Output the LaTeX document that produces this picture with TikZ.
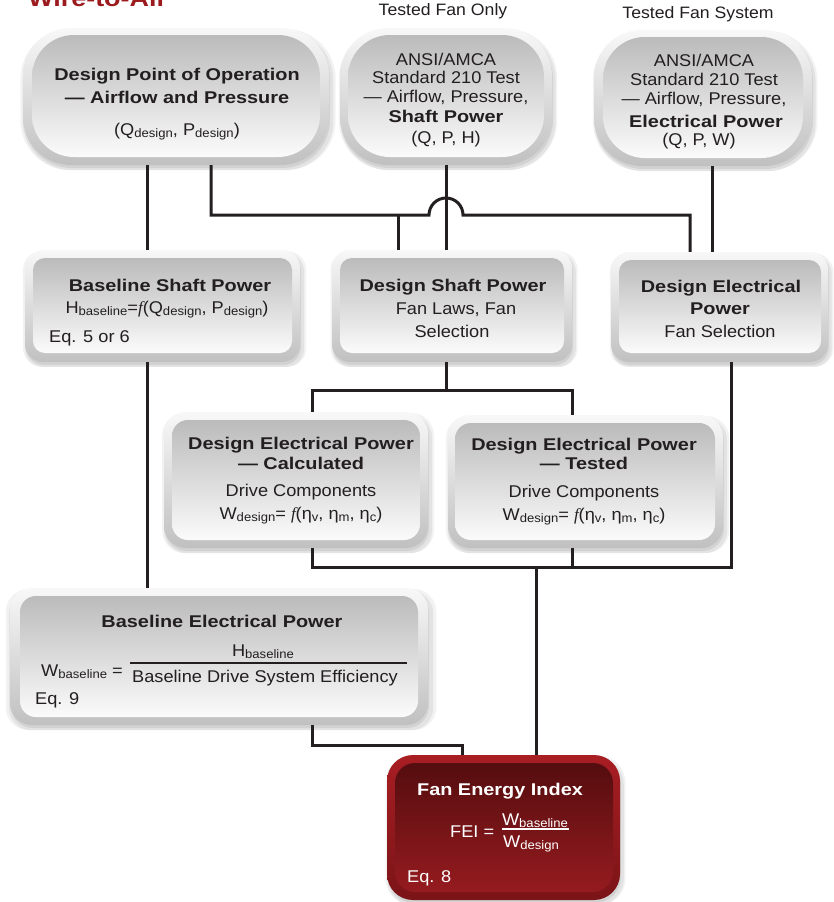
\documentclass[tikz,border=0pt]{standalone}
\usepackage{fontspec}
\usepackage{graphicx}
\setmainfont{Liberation Sans}[FakeStretch=1.07]
\newfontfamily\bd{Liberation Sans}[FakeStretch=1.17]
\newfontfamily\itf{Liberation Serif}
\usetikzlibrary{shadows}
\definecolor{ink}{HTML}{231F20}
\definecolor{fred}{HTML}{9B1B1F}
\definecolor{rimT}{HTML}{F8F8F8}
\definecolor{rimB}{HTML}{C0C0C0}
\definecolor{inT}{HTML}{BBBBBB}
\definecolor{inB}{HTML}{FBFBFB}
\definecolor{frimT}{HTML}{A81E23}
\definecolor{frimB}{HTML}{7A1417}
\definecolor{finT}{HTML}{550D0F}
\definecolor{finB}{HTML}{951B1F}
\newcommand\sbs[1]{\raisebox{-0.3ex}{\scalebox{0.72}{#1}}}
\newcommand\ff{{\itf\itshape f}}
\tikzset{
  softshadow/.style={
    general shadow={shadow xshift=2pt, shadow yshift=-3pt, shadow scale=1.03, fill=black, opacity=0.05},
    general shadow={shadow xshift=2pt, shadow yshift=-4pt, shadow scale=1.015, fill=black, opacity=0.06},
    general shadow={shadow xshift=1pt, shadow yshift=-3pt, fill=black, opacity=0.07}},
  rim/.style={rectangle, draw=none, inner sep=0pt, top color=rimT, bottom color=rimB, softshadow},
  inr/.style={rectangle, draw=none, inner sep=0pt, top color=inT, bottom color=inB},
  frim/.style={rectangle, draw=none, inner sep=0pt, top color=frimT, bottom color=frimB, softshadow},
  finr/.style={rectangle, draw=none, inner sep=0pt, top color=finT, bottom color=finB},
  txt/.style={anchor=base, inner sep=0pt, text=ink, font=\fontsize{17}{20}\selectfont},
  bt/.style={anchor=base, inner sep=0pt, text=ink, font=\fontsize{17}{20}\selectfont\bd\bfseries},
  lab/.style={anchor=base, inner sep=0pt, text=ink, font=\fontsize{16.5}{20}\selectfont},
  con/.style={draw=ink, line width=3pt, line join=miter},
}
\begin{document}
\begin{tikzpicture}[x=1pt, y=-1pt]
\useasboundingbox[fill=white] (0,0) rectangle (834,902);

% title (cut by the top edge, as in the reference)
\node[anchor=base west, inner sep=0pt, text=fred, font=\fontsize{23}{23}\selectfont\bd\bfseries] (title) at (28,6) {Wire-to-Air};
\node[lab] (lab1) at (443,16) {Tested Fan Only};
\node[lab] (lab2) at (698,19) {Tested Fan System};

% top row
\node[rim, minimum width=306pt, minimum height=137pt, rounded corners=48pt] (dp) at (176,96.5) {};
\node[inr, minimum width=288pt, minimum height=122pt, rounded corners=42pt] (dpi) at (176,96) {};
\node[rim, minimum width=212pt, minimum height=137pt, rounded corners=48pt] (asf) at (446,96.5) {};
\node[inr, minimum width=196pt, minimum height=122pt, rounded corners=42pt] (asfi) at (446,96) {};
\node[rim, minimum width=218pt, minimum height=136pt, rounded corners=48pt] (afs) at (703,98) {};
\node[inr, minimum width=200pt, minimum height=121pt, rounded corners=42pt] (afsi) at (703,97.5) {};

% second row
\node[rim, minimum width=275pt, minimum height=112pt, rounded corners=18pt] (bsp) at (162.5,306) {};
\node[inr, minimum width=259pt, minimum height=95pt, rounded corners=12pt] (bspi) at (162.5,305.5) {};
\node[rim, minimum width=240pt, minimum height=112pt, rounded corners=18pt] (dsp) at (452,306) {};
\node[inr, minimum width=224pt, minimum height=95pt, rounded corners=12pt] (dspi) at (452,305.5) {};
\node[rim, minimum width=217pt, minimum height=110pt, rounded corners=18pt] (dep) at (719.5,307) {};
\node[inr, minimum width=202pt, minimum height=93pt, rounded corners=12pt] (depi) at (720,306.5) {};

% third row
\node[rim, minimum width=264pt, minimum height=136pt, rounded corners=22pt] (calc) at (296,480) {};
\node[inr, minimum width=248pt, minimum height=120pt, rounded corners=16pt] (calci) at (296,480) {};
\node[rim, minimum width=275pt, minimum height=133pt, rounded corners=22pt] (tst) at (585.5,481.5) {};
\node[inr, minimum width=260pt, minimum height=117pt, rounded corners=16pt] (tsti) at (585,481.5) {};

% fourth row
\node[rim, minimum width=418pt, minimum height=137pt, rounded corners=22pt] (bep) at (219,656.5) {};
\node[inr, minimum width=398pt, minimum height=121pt, rounded corners=16pt] (bepi) at (219,656.5) {};

% FEI
\node[frim, minimum width=233pt, minimum height=145pt, rounded corners=26pt] (fei) at (503.5,827.5) {};
\node[finr, minimum width=218pt, minimum height=129pt, rounded corners=20pt] (feii) at (504,827.5) {};

% texts
\node[bt] (dp1) at (177,80) {Design Point of Operation};
\node[bt] (dp2) at (177,103) {— Airflow and Pressure};
\node[txt] (dp3) at (177,135) {(Q\sbs{design}, P\sbs{design})};

\node[txt] (a1) at (446,65) {ANSI/AMCA};
\node[txt] (a2) at (446,83) {Standard 210 Test};
\node[txt] (a3) at (446,102) {— Airflow, Pressure,};
\node[bt] (a4) at (446,122) {Shaft Power};
\node[txt] (a5) at (446,143) {(Q, P, H)};

\node[txt] (b1) at (704,66) {ANSI/AMCA};
\node[txt] (b2) at (704,85) {Standard 210 Test};
\node[txt] (b3) at (704,104) {— Airflow, Pressure,};
\node[bt] (b4) at (706,127) {Electrical Power};
\node[txt] (b5) at (699,145) {(Q, P, W)};

\node[bt] (c1) at (170,291) {Baseline Shaft Power};
\node[txt] (c2) at (167,313) {H\sbs{baseline}=\ff(Q\sbs{design}, P\sbs{design})};
\node[txt, anchor=base west] (c3) at (49,342) {Eq. 5 or 6};

\node[bt] (d1) at (453,291) {Design Shaft Power};
\node[txt] (d2) at (456,314) {Fan Laws, Fan};
\node[txt] (d3) at (452,337) {Selection};

\node[bt] (e1) at (721,292) {Design Electrical};
\node[bt] (e2) at (720,314) {Power};
\node[txt] (e3) at (720,337) {Fan Selection};

\node[bt] (f1) at (301,449) {Design Electrical Power};
\node[bt] (f2) at (301,469) {— Calculated};
\node[txt] (f3) at (301,496) {Drive Components};
\node[txt] (f4) at (301,519) {W\sbs{design}= \ff(η\sbs{v}, η\sbs{m}, η\sbs{c})};

\node[bt] (g1) at (584,450) {Design Electrical Power};
\node[bt] (g2) at (584,469) {— Tested};
\node[txt] (g3) at (584,497) {Drive Components};
\node[txt] (g4) at (584,520) {W\sbs{design}= \ff(η\sbs{v}, η\sbs{m}, η\sbs{c})};

\node[bt] (h1) at (222,627) {Baseline Electrical Power};
\node[txt, anchor=base west] (h2) at (41,676) {W\sbs{baseline} =};
\node[txt] (h3) at (263,656) {H\sbs{baseline}};
\draw[ink, line width=1.1pt] (130,663) -- (407,663);
\node[txt] (h4) at (265,682) {Baseline Drive System Efficiency};
\node[txt, anchor=base west] (h5) at (35,704) {Eq. 9};

\node[bt, text=white] (i1) at (500,795) {Fan Energy Index};
\node[txt, text=white, anchor=base west] (i2) at (450,837) {FEI =};
\node[txt, text=white] (i3) at (535,825) {W\sbs{baseline}};
\draw[white, line width=1.6pt] (502,829) -- (569,829);
\node[txt, text=white, anchor=base west] (i4) at (503,847) {W\sbs{design}};
\node[txt, text=white, anchor=base west] (i5) at (407,882) {Eq. 8};

% connector guides
\coordinate (xa) at (147,0);
\coordinate (xb) at (211,0);
\coordinate (xc) at (446,0);
\coordinate (xd) at (712,0);
\coordinate (xe) at (690,0);
\coordinate (xf) at (398,0);
\coordinate (xg) at (312,0);
\coordinate (xh) at (572,0);
\coordinate (xi) at (731,0);
\coordinate (xj) at (536,0);
\coordinate (xk) at (462,0);
\coordinate (yh) at (0,215);
\coordinate (j1) at (0,390);
\coordinate (j2) at (0,567);
\coordinate (j3) at (0,745);
\coordinate (hl) at (429,215);

% connectors
\draw[con] (dp.south -| xa) -- (bsp.north -| xa);
\draw[con] (bsp.south -| xa) -- (bep.north -| xa);
\draw[con] (dp.south -| xb) |- (hl) arc[start angle=180, end angle=0, radius=17pt] -| (dep.north -| xe);
\draw[con] (xf |- yh) -- (dsp.north -| xf);
\draw[con] (asf.south -| xc) -- (dsp.north -| xc);
\draw[con] (afs.south -| xd) -- (dep.north -| xd);
\draw[con] (dsp.south -| xc) -- (xc |- j1);
\draw[con] (calc.north -| xg) |- (xh |- j1) -- (tst.north -| xh);
\draw[con] (calc.south -| xg) |- (xi |- j2) -- (dep.south -| xi);
\draw[con] (tst.south -| xh) -- (xh |- j2);
\draw[con] (xj |- j2) -- (fei.north -| xj);
\draw[con] (bep.south -| xg) |- (xk |- j3) -- (fei.north -| xk);
\end{tikzpicture}
\end{document}
